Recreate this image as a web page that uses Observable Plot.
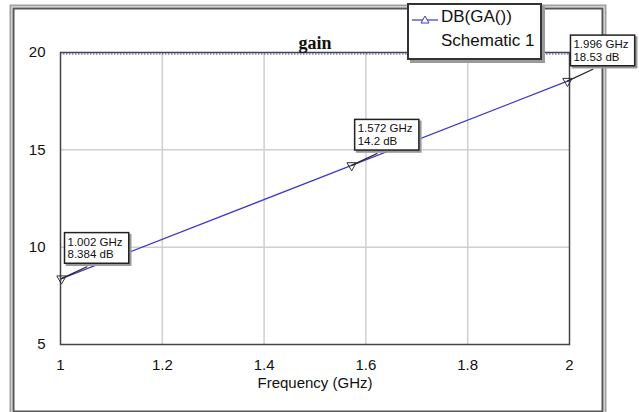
<!DOCTYPE html>
<html><head><meta charset="utf-8">
<script src="https://cdn.jsdelivr.net/npm/d3@7"></script>
<script src="https://cdn.jsdelivr.net/npm/@observablehq/plot@0.6"></script>
<style>
body{margin:0;background:#fff;font-family:"Liberation Sans",Arial,sans-serif;}
#wrap{position:relative;width:639px;height:412px;overflow:hidden;}
#legend{position:absolute;left:407px;top:3px;width:131px;height:53px;border:2px solid #333;background:#fff;box-shadow:3px 3px 0 #9a9a9a;color:#111;}
#legend .t1{position:absolute;left:32px;top:2px;font-size:17px;}
#legend .t2{position:absolute;left:32px;top:26px;font-size:17px;}
#legend svg{position:absolute;left:3px;top:5px;}
</style></head><body><div id="wrap"></div><script>
// data
const freq = [1.0, 1.002, 1.572, 1.996, 2.0];
const gain = [8.364, 8.384, 14.2, 18.53, 18.57];
const markerFreq = [1.002, 1.572, 1.996];
const markerGain = [8.384, 14.2, 18.53];
const markerLabels = ["1.002 GHz\n8.384 dB", "1.572 GHz\n14.2 dB", "1.996 GHz\n18.53 dB"];
const xTicks = [1, 1.2, 1.4, 1.6, 1.8, 2];
const yTicks = [5, 10, 15, 20];
const title = "gain";
const xLabel = "Frequency (GHz)";
const seriesName = "DB(GA())";
const sourceName = "Schematic 1";

const lineData = freq.map((f, i) => ({f, g: gain[i]}));
const markers = markerFreq.map((f, i) => ({f, g: markerGain[i], label: markerLabels[i]}));
const blue = "#3a3ac8";

const chart = Plot.plot({
  width: 639, height: 412,
  marginLeft: 60, marginRight: 70, marginTop: 52, marginBottom: 68,
  style: {fontFamily: "Liberation Sans, Arial, sans-serif", fontSize: "15px", color: "#111", background: "transparent", overflow: "visible"},
  x: {domain: [1, 2], ticks: xTicks, tickFormat: d => String(d), tickSize: 0, tickPadding: 15, label: null},
  y: {domain: [5, 20], ticks: yTicks, tickFormat: d => String(d), tickSize: 0, tickPadding: 15, label: null},
  marks: [
    Plot.frame({insetLeft: -50, insetTop: -47, insetRight: -36, insetBottom: -70, stroke: "#a0a0a0", strokeWidth: 2}),
    Plot.frame({insetLeft: -47, insetTop: -44, insetRight: -33, insetBottom: -67, stroke: "#555", strokeWidth: 2}),
    Plot.ruleX(xTicks.slice(1, -1), {stroke: "#cfcfcf", strokeWidth: 1.5}),
    Plot.ruleY(yTicks.slice(1, -1), {stroke: "#cfcfcf", strokeWidth: 1.5}),
    Plot.frame({stroke: "#444", strokeWidth: 1.5}),
    Plot.ruleY([20], {stroke: blue, strokeDasharray: "1.5,1.5", dy: 1.5}),
    Plot.line(lineData, {x: "f", y: "g", stroke: blue, strokeWidth: 1.2}),
    Plot.vector(markers, {x: "f", y: "g", length: 28, rotate: 65, anchor: "start", stroke: "#222", strokeWidth: 1.2,
      shape: {draw(ctx, l) { ctx.moveTo(0, 0); ctx.lineTo(0, -l); }}}),
    Plot.dot(markers, {x: "f", y: "g", symbol: "triangle", rotate: 180, r: 3.5, stroke: "#333", strokeWidth: 1, fill: "none"}),
    Plot.text(markers, {x: "f", y: "g", text: "label", textAnchor: "start", lineAnchor: "top", dx: 6, dy: -42,
      fontSize: 11.5, lineHeight: 1.1, fill: "#111"}),
    Plot.text([title], {frameAnchor: "top", dy: -16, fontWeight: "bold", fontFamily: "Liberation Serif, Times New Roman, serif", fontSize: 18, fill: "#111"}),
    Plot.text([xLabel], {frameAnchor: "bottom", dy: 43, fontSize: 15, fill: "#111"})
  ]
});

const wrap = document.getElementById("wrap");
wrap.appendChild(chart);

// boxes behind annotation texts
const SVGNS = "http://www.w3.org/2000/svg";
const annG = Array.from(chart.querySelectorAll("g")).find(g =>
  g.children.length === markers.length && Array.from(g.children).every(c => c.tagName === "text" && c.textContent.includes("GHz")));
if (annG) {
  const boxes = document.createElementNS(SVGNS, "g");
  const gt = annG.getAttribute("transform");
  if (gt) boxes.setAttribute("transform", gt);
  Array.from(annG.children).forEach(t => {
    const b = t.getBBox();
    const tr = t.getAttribute("transform");
    const mk = (off, fill, stroke) => {
      const r = document.createElementNS(SVGNS, "rect");
      r.setAttribute("x", b.x - 3 + off); r.setAttribute("y", b.y - 3 + off);
      r.setAttribute("width", b.width + 9); r.setAttribute("height", b.height + 6);
      r.setAttribute("fill", fill); r.setAttribute("stroke", stroke); r.setAttribute("stroke-width", 1.5);
      if (tr) r.setAttribute("transform", tr);
      boxes.appendChild(r);
    };
    mk(2, "#9a9a9a", "#9a9a9a");
    mk(0, "#fff", "#222");
  });
  annG.parentNode.insertBefore(boxes, annG);
}

// legend
const leg = document.createElement("div");
leg.id = "legend";
leg.innerHTML = `<svg width="30" height="20"><line x1="0" y1="10" x2="26" y2="10" stroke="${blue}" stroke-width="1.2"/><path d="M13,6 L17,13 L9,13 Z" fill="#fff" stroke="${blue}" stroke-width="1"/></svg><div class="t1"></div><div class="t2"></div>`;
leg.querySelector(".t1").textContent = seriesName;
leg.querySelector(".t2").textContent = sourceName;
wrap.appendChild(leg);
</script></body></html>
